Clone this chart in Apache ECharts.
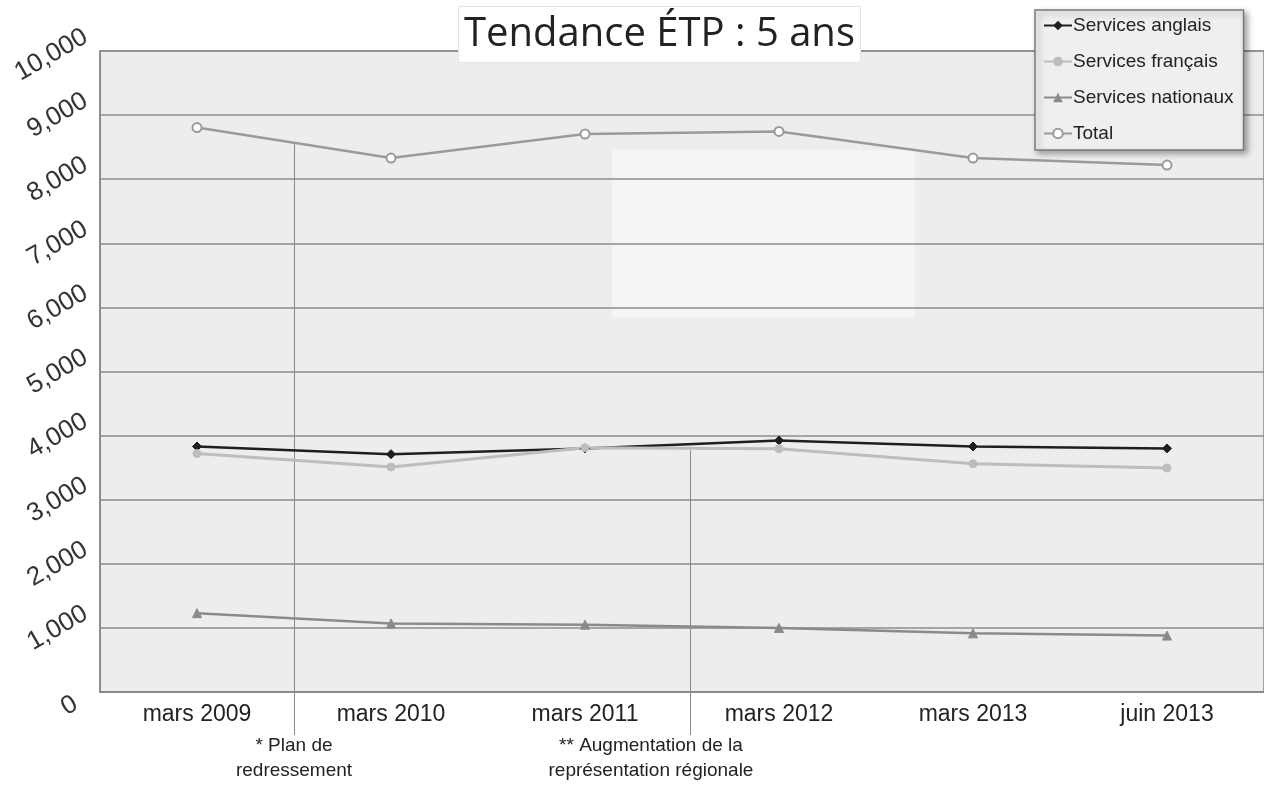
<!DOCTYPE html>
<html>
<head>
<meta charset="utf-8">
<script src="https://cdn.jsdelivr.net/npm/echarts@6/dist/echarts.min.js"></script>
<style>
html,body{margin:0;padding:0;background:#fff;}
#chart{width:1264px;height:802px;}
</style>
</head>
<body>
<div id="chart"></div>
<script>
const categories = ['mars 2009', 'mars 2010', 'mars 2011', 'mars 2012', 'mars 2013', 'juin 2013'];
const seriesNames = ['Services anglais', 'Services français', 'Services nationaux', 'Total'];
const anglais = [3830, 3710, 3800, 3925, 3830, 3800];
const francais = [3720, 3510, 3810, 3795, 3560, 3495];
const nationaux = [1230, 1070, 1050, 1000, 915, 880];
const total = [8805, 8330, 8705, 8745, 8330, 8220];
const yMin = 0, yMax = 10000, yStep = 1000;
const titleText = 'Tendance ÉTP : 5 ans';
const annotationText = ['* Plan de\nredressement', '** Augmentation de la\nreprésentation régionale'];
const annotationPos = [0.5, 2.54];
const annotationTextPos = [0.5, 2.34];
const annotationTop = [8550, 3770];

const chart = echarts.init(document.getElementById('chart'));
const fmt = v => v.toString().replace(/\B(?=(\d{3})+(?!\d))/g, ',');
const labelFont = { fontFamily: 'Liberation Sans, Arial', fontSize: 26, color: '#333' };

function lineSeries(name, data, color, symbol, size, width) {
  return {
    name, type: 'line', data, symbol, symbolSize: size,
    lineStyle: { color, width },
    itemStyle: { color, borderColor: color },
    emphasis: { disabled: true }
  };
}

chart.setOption({
  animation: false,
  backgroundColor: '#ffffff',
  title: {
    text: titleText, left: 458, top: 6,
    backgroundColor: '#ffffff', borderColor: '#e4e4e4', borderWidth: 1,
    padding: [9, 6, 8, 6],
    textStyle: { fontFamily: 'Open Sans', fontSize: 40, fontWeight: 'normal', color: '#222' }
  },
  legend: {
    orient: 'vertical', left: 1035, top: 10,
    data: seriesNames,
    backgroundColor: '#efefef', borderColor: '#7a7a7a', borderWidth: 1.5,
    shadowBlur: 6, shadowColor: 'rgba(0,0,0,0.35)', shadowOffsetX: 3, shadowOffsetY: 3,
    padding: [6, 10, 7, 8], itemGap: 17, itemWidth: 28, itemHeight: 12,
    textStyle: { fontFamily: 'Liberation Sans, Arial', fontSize: 19, color: '#222', padding: [0, 0, 0, -4] }
  },
  grid: {
    left: 100, right: -8, top: 51, bottom: 110, show: true,
    backgroundColor: '#ededed', borderColor: '#8a8a8a', borderWidth: 1.5
  },
  xAxis: {
    type: 'category', data: categories, boundaryGap: true,
    axisLine: { lineStyle: { color: '#888', width: 1.5 } },
    axisTick: { show: false },
    axisLabel: { fontFamily: 'Liberation Sans, Arial', fontSize: 23, color: '#222', margin: 11 }
  },
  yAxis: {
    type: 'value', min: yMin, max: yMax, interval: yStep,
    axisLine: { show: true, lineStyle: { color: '#888', width: 1.5 } },
    axisTick: { show: false },
    splitLine: { lineStyle: { color: '#8c8c8c', width: 1.5 } },
    axisLabel: Object.assign({
      formatter: v => v === 0 ? '{z|0   }' : '{n|' + fmt(v) + '}',
      rotate: 30, margin: 5, verticalAlign: 'bottom',
      showMinLabel: true, showMaxLabel: true, hideOverlap: false,
      rich: {
        n: Object.assign({ lineHeight: 37 }, labelFont),
        z: Object.assign({ lineHeight: 2 }, labelFont)
      }
    }, labelFont)
  },
  series: [
    lineSeries(seriesNames[0], anglais, '#1e1e1e', 'diamond', 9, 2.5),
    lineSeries(seriesNames[1], francais, '#bdbdbd', 'circle', 8, 3),
    lineSeries(seriesNames[2], nationaux, '#8a8a8a', 'triangle', 9, 2.5),
    Object.assign(lineSeries(seriesNames[3], total, '#9a9a9a', 'emptyCircle', 9, 2.5), {
      itemStyle: { color: '#9a9a9a', borderColor: '#9a9a9a', borderWidth: 1.5 }
    })
  ]
});

function catX(pos) {
  const i = Math.floor(pos);
  const a = chart.convertToPixel({ xAxisIndex: 0 }, categories[i]);
  const b = chart.convertToPixel({ xAxisIndex: 0 }, categories[i + 1]);
  return a + (pos - i) * (b - a);
}
const yBottom = chart.convertToPixel({ yAxisIndex: 0 }, 0);
const graphics = [{
  type: 'rect', shape: { x: 612, y: 150, width: 303, height: 168 },
  style: { fill: '#f4f5f5' }, z: 0, z2: -0.5, silent: true
}];
annotationPos.forEach((p, k) => {
  const x = Math.round(catX(p)) + 0.5;
  const xt = catX(annotationTextPos[k]);
  const yTop = chart.convertToPixel({ yAxisIndex: 0 }, annotationTop[k]);
  graphics.push({
    type: 'line', shape: { x1: x, y1: yTop, x2: x, y2: yBottom + 43 },
    style: { stroke: '#8a8a8a', lineWidth: 1 }, z: 1, silent: true
  });
  graphics.push({
    type: 'text', x: xt, y: yBottom + 41,
    style: {
      text: annotationText[k], textAlign: 'center', textVerticalAlign: 'top',
      font: '19px "Liberation Sans Narrow", "Liberation Sans", Arial', fill: '#222', lineHeight: 25
    }, z: 1, silent: true
  });
});
chart.setOption({ graphic: graphics });
</script>
</body>
</html>
